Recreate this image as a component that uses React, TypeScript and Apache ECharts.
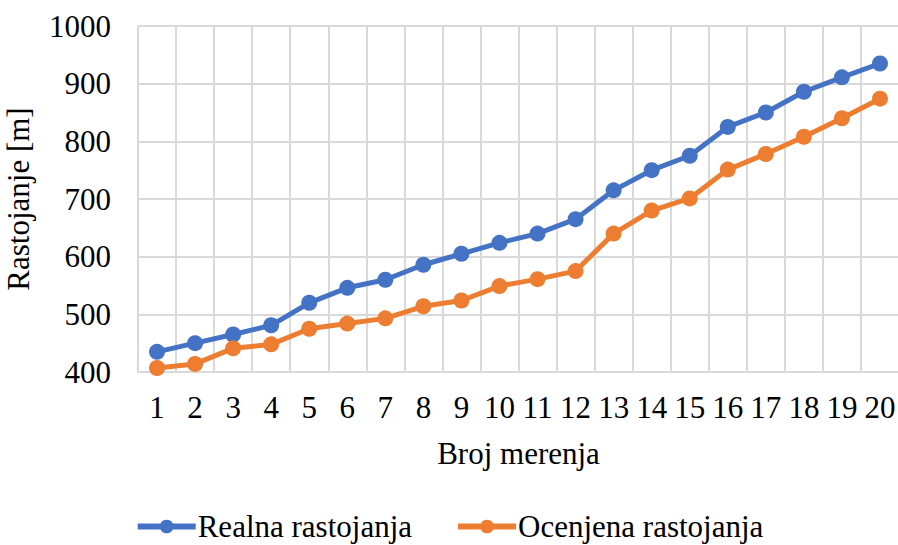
import React, { useEffect, useRef } from "react";
import * as echarts from "echarts";

const categories = ["1","2","3","4","5","6","7","8","9","10","11","12","13","14","15","16","17","18","19","20"];
const realna = [435, 450, 465, 481, 520, 546, 560, 586, 605, 624, 640, 665, 715, 750, 775, 825, 850, 886, 911, 935];
const ocenjena = [407, 414, 441, 448, 475, 484, 493, 514, 524, 549, 561, 575, 640, 680, 701, 751, 778, 808, 840, 874];
const seriesNames = ["Realna rastojanja", "Ocenjena rastojanja"];
const yTicks = { min: 400, max: 1000, interval: 100 };

const FONT = "Liberation Serif";
const FS = 31;

export default function App() {
  const ref = useRef<HTMLDivElement>(null);
  useEffect(() => {
    document.body.style.margin = "0";
    const chart = echarts.init(ref.current!, null, { renderer: "svg" });
    chart.setOption({
      animation: false,
      textStyle: { fontFamily: FONT, color: "#000" },
      grid: { left: 138, top: 26, width: 761, height: 346, containLabel: false, outerBoundsMode: "none" },
      legend: {
        top: 506,
        left: "center",
        itemWidth: 58,
        itemHeight: 17,
        itemGap: 43,
        lineStyle: { width: 6 },
        textStyle: { fontFamily: FONT, fontSize: FS, color: "#000", padding: [0, 0, 0, -3] },
        data: seriesNames,
      },
      xAxis: {
        type: "category",
        data: categories,
        boundaryGap: true,
        name: "Broj merenja",
        nameLocation: "middle",
        nameGap: 66,
        nameTextStyle: { fontFamily: FONT, fontSize: FS, color: "#000", verticalAlign: "top" },
        axisLine: { show: true, lineStyle: { color: "#d9d9d9", width: 2 } },
        axisTick: { show: false },
        axisLabel: { fontFamily: FONT, fontSize: FS, color: "#000", margin: 20, interval: 0 },
        splitLine: { show: true, interval: 0, lineStyle: { color: "#d9d9d9", width: 2 } },
      },
      yAxis: {
        type: "value",
        min: yTicks.min,
        max: yTicks.max,
        interval: yTicks.interval,
        name: "Rastojanje [m]",
        nameLocation: "middle",
        nameGap: 104,
        nameTextStyle: { fontFamily: FONT, fontSize: FS, color: "#000" },
        axisLine: { show: false },
        axisTick: { show: false },
        axisLabel: { fontFamily: FONT, fontSize: FS, color: "#000", margin: 27, formatter: (v: number) => String(v) },
        splitLine: { show: true, lineStyle: { color: "#d9d9d9", width: 2 } },
      },
      series: [
        {
          name: seriesNames[0],
          type: "line",
          data: realna,
          symbol: "circle",
          symbolSize: 16,
          lineStyle: { color: "#4472C4", width: 5 },
          itemStyle: { color: "#4472C4" },
        },
        {
          name: seriesNames[1],
          type: "line",
          data: ocenjena,
          symbol: "circle",
          symbolSize: 16,
          lineStyle: { color: "#ED7D31", width: 5 },
          itemStyle: { color: "#ED7D31" },
        },
      ],
    });
    return () => chart.dispose();
  }, []);
  return <div ref={ref} style={{ width: 898, height: 545 }} />;
}
